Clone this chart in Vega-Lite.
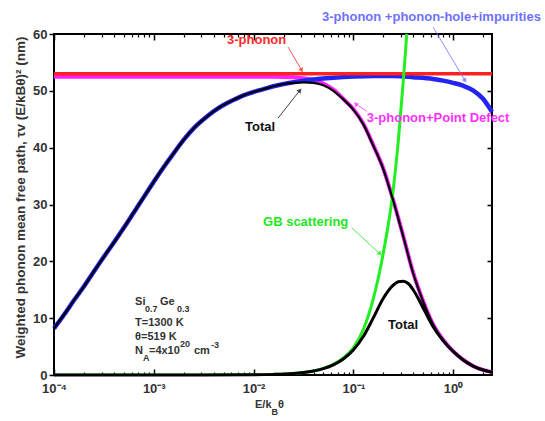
{
"$schema":"https://vega.github.io/schema/vega-lite/v6.json",
"width":438,"height":341,
"autosize":"none",
"padding":{"left":54,"top":34,"right":53,"bottom":46},
"background":"white",
"config":{"font":"Liberation Sans","view":{"stroke":"black","strokeWidth":2}},
"datasets":{
"curves":[
{"s":"R","x":0.0001,"y":53.0},{"s":"R","x":2.455,"y":53.0},
{"s":"B","x":0.0001,"y":8.2},{"s":"B","x":0.000126,"y":10.6},{"s":"B","x":0.000158,"y":13.1},{"s":"B","x":0.0002,"y":15.6},{"s":"B","x":0.000251,"y":18.2},{"s":"B","x":0.000316,"y":20.8},{"s":"B","x":0.000398,"y":23.3},{"s":"B","x":0.000501,"y":25.9},{"s":"B","x":0.000631,"y":28.6},{"s":"B","x":0.000794,"y":31.3},{"s":"B","x":0.001,"y":34.0},{"s":"B","x":0.00126,"y":36.6},{"s":"B","x":0.00158,"y":39.0},{"s":"B","x":0.002,"y":41.4},{"s":"B","x":0.00251,"y":43.4},{"s":"B","x":0.00316,"y":45.0},{"s":"B","x":0.00398,"y":46.4},{"s":"B","x":0.00501,"y":47.5},{"s":"B","x":0.00631,"y":48.4},{"s":"B","x":0.00794,"y":49.2},{"s":"B","x":0.01,"y":49.8},{"s":"B","x":0.0126,"y":50.3},{"s":"B","x":0.0158,"y":50.8},{"s":"B","x":0.02,"y":51.2},{"s":"B","x":0.0251,"y":51.5},{"s":"B","x":0.0316,"y":51.8},{"s":"B","x":0.0398,"y":52.0},{"s":"B","x":0.0631,"y":52.3},{"s":"B","x":0.1,"y":52.5},{"s":"B","x":0.158,"y":52.6},{"s":"B","x":0.251,"y":52.6},{"s":"B","x":0.398,"y":52.4},{"s":"B","x":0.631,"y":52.1},{"s":"B","x":0.794,"y":51.8},{"s":"B","x":1,"y":51.4},{"s":"B","x":1.259,"y":50.9},{"s":"B","x":1.585,"y":50.1},{"s":"B","x":1.995,"y":48.6},{"s":"B","x":2.455,"y":46.3},
{"s":"M","x":0.0001,"y":52.5},{"s":"M","x":0.01,"y":52.5},{"s":"M","x":0.0158,"y":52.5},{"s":"M","x":0.0251,"y":52.4},{"s":"M","x":0.0316,"y":52.2},{"s":"M","x":0.0398,"y":51.9},{"s":"M","x":0.0501,"y":51.3},{"s":"M","x":0.0631,"y":50.2},{"s":"M","x":0.0794,"y":48.6},{"s":"M","x":0.1,"y":46.8},{"s":"M","x":0.126,"y":44.2},{"s":"M","x":0.158,"y":40.5},{"s":"M","x":0.2,"y":36.3},{"s":"M","x":0.251,"y":30.8},{"s":"M","x":0.316,"y":24.5},{"s":"M","x":0.398,"y":18.0},{"s":"M","x":0.501,"y":13.0},{"s":"M","x":0.631,"y":8.9},{"s":"M","x":0.794,"y":6.2},{"s":"M","x":1,"y":4.2},{"s":"M","x":1.259,"y":2.7},{"s":"M","x":1.585,"y":1.6},{"s":"M","x":1.995,"y":0.9},{"s":"M","x":2.455,"y":0.5},
{"s":"U","x":0.0001,"y":8.2},{"s":"U","x":0.000126,"y":10.6},{"s":"U","x":0.000158,"y":13.1},{"s":"U","x":0.0002,"y":15.6},{"s":"U","x":0.000251,"y":18.2},{"s":"U","x":0.000316,"y":20.8},{"s":"U","x":0.000398,"y":23.3},{"s":"U","x":0.000501,"y":25.9},{"s":"U","x":0.000631,"y":28.6},{"s":"U","x":0.000794,"y":31.3},{"s":"U","x":0.001,"y":34.0},{"s":"U","x":0.00126,"y":36.6},{"s":"U","x":0.00158,"y":39.0},{"s":"U","x":0.002,"y":41.4},{"s":"U","x":0.00251,"y":43.4},{"s":"U","x":0.00316,"y":45.0},{"s":"U","x":0.00398,"y":46.4},{"s":"U","x":0.00501,"y":47.5},{"s":"U","x":0.00631,"y":48.4},{"s":"U","x":0.00794,"y":49.2},{"s":"U","x":0.01,"y":49.8},{"s":"U","x":0.0126,"y":50.3},{"s":"U","x":0.0158,"y":50.8},{"s":"U","x":0.02,"y":51.2},{"s":"U","x":0.0251,"y":51.4},{"s":"U","x":0.0316,"y":51.5},{"s":"U","x":0.0398,"y":51.4},{"s":"U","x":0.0501,"y":51.0},{"s":"U","x":0.0631,"y":50.0},{"s":"U","x":0.0794,"y":48.5},{"s":"U","x":0.1,"y":46.7},{"s":"U","x":0.126,"y":44.1},{"s":"U","x":0.158,"y":40.4},{"s":"U","x":0.2,"y":36.2},{"s":"U","x":0.251,"y":30.7},{"s":"U","x":0.316,"y":24.4},{"s":"U","x":0.398,"y":17.9},{"s":"U","x":0.501,"y":12.9},{"s":"U","x":0.631,"y":8.85},{"s":"U","x":0.794,"y":6.15},{"s":"U","x":1,"y":4.18},{"s":"U","x":1.259,"y":2.69},{"s":"U","x":1.585,"y":1.6},{"s":"U","x":1.995,"y":0.9},{"s":"U","x":2.455,"y":0.5},
{"s":"L","x":0.0001,"y":0.0},{"s":"L","x":0.001,"y":0.0004},{"s":"L","x":0.00316,"y":0.004},{"s":"L","x":0.01,"y":0.043},{"s":"L","x":0.0158,"y":0.11},{"s":"L","x":0.0251,"y":0.28},{"s":"L","x":0.0316,"y":0.45},{"s":"L","x":0.0398,"y":0.71},{"s":"L","x":0.0501,"y":1.13},{"s":"L","x":0.0631,"y":1.79},{"s":"L","x":0.0794,"y":2.82},{"s":"L","x":0.1,"y":4.4},{"s":"L","x":0.126,"y":6.77},{"s":"L","x":0.158,"y":10.0},{"s":"L","x":0.2,"y":13.5},{"s":"L","x":0.251,"y":15.8},{"s":"L","x":0.282,"y":16.4},{"s":"L","x":0.316,"y":16.5},{"s":"L","x":0.355,"y":16.1},{"s":"L","x":0.398,"y":15.0},{"s":"L","x":0.501,"y":11.8},{"s":"L","x":0.631,"y":8.5},{"s":"L","x":0.794,"y":6.05},{"s":"L","x":1,"y":4.15},{"s":"L","x":1.259,"y":2.65},{"s":"L","x":1.585,"y":1.57},{"s":"L","x":1.995,"y":0.88},{"s":"L","x":2.455,"y":0.48},
{"s":"G","x":0.0001,"y":0.0},{"s":"G","x":0.001,"y":0.0004},{"s":"G","x":0.00316,"y":0.004},{"s":"G","x":0.01,"y":0.043},{"s":"G","x":0.0158,"y":0.11},{"s":"G","x":0.0251,"y":0.28},{"s":"G","x":0.0316,"y":0.45},{"s":"G","x":0.0398,"y":0.72},{"s":"G","x":0.0501,"y":1.16},{"s":"G","x":0.0631,"y":1.86},{"s":"G","x":0.0794,"y":2.99},{"s":"G","x":0.1,"y":4.78},{"s":"G","x":0.126,"y":8.0},{"s":"G","x":0.158,"y":13.3},{"s":"G","x":0.2,"y":21.5},{"s":"G","x":0.251,"y":32.5},{"s":"G","x":0.282,"y":41.0},{"s":"G","x":0.316,"y":51.5},{"s":"G","x":0.355,"y":64.0},{"s":"G","x":0.398,"y":81.0}
],
"ann":[
{"c":"red","label":"3-phonon","tx":0.00542,"ty":58.9,"ax":0.0222,"ay":57.7,"bx":0.0304,"by":53.6},
{"c":"blue","label":"3-phonon +phonon-hole+impurities","tx":0.0486,"ty":63.0,"ax":0.631,"ay":61.2,"bx":1.318,"by":51.8},
{"c":"magenta","label":"3-phonon+Point Defect","tx":0.1365,"ty":45.2,"ax":0.1365,"ay":46.4,"bx":0.1054,"by":47.7},
{"c":"black","label":"Total","tx":0.00822,"ty":43.6,"ax":0.0176,"ay":45.2,"bx":0.0292,"by":50.1},
{"c":"green","label":"GB scattering","tx":0.01245,"ty":27.0,"ax":0.0966,"ay":25.9,"bx":0.1854,"by":21.3},
{"c":"black","label":"Total","tx":0.2228,"ty":8.8}
],
"info":[
{"t":"Si","x":0.000649,"y":12.9,"r":"m"},{"t":"0.7","x":0.000817,"y":11.6,"r":"s"},{"t":"Ge","x":0.001156,"y":12.9,"r":"m"},{"t":"0.3","x":0.00171,"y":11.6,"r":"s"},
{"t":"T=1300 K","x":0.000649,"y":9.2,"r":"m"},{"t":"θ=519 K","x":0.000649,"y":6.63,"r":"m"},
{"t":"N","x":0.000649,"y":4.28,"r":"m"},{"t":"A","x":0.00078,"y":3.0,"r":"s"},{"t":"=4x10","x":0.000895,"y":4.28,"r":"m"},{"t":"20","x":0.00183,"y":5.4,"r":"s"},{"t":"cm","x":0.00253,"y":4.28,"r":"m"},{"t":"-3","x":0.00375,"y":5.3,"r":"s"},
{"t":"E/k","x":0.01035,"y":-5.28,"r":"m"},{"t":"B","x":0.01515,"y":-6.5,"r":"s"},{"t":"θ","x":0.0176,"y":-5.28,"r":"m"}
]
},
"resolve":{"axis":{"x":"independent","y":"independent"}},
"layer":[
{"data":{"name":"curves"},"transform":[{"filter":"datum.s=='M'"}],
 "mark":{"type":"line","color":"#ff22ff","strokeWidth":4,"interpolate":"monotone"},
 "encoding":{
  "x":{"field":"x","type":"quantitative","scale":{"type":"log","domain":[0.0001,2.455],"nice":false},
   "axis":{"orient":"bottom","values":[0.0001,0.001,0.01,0.1,1],"ticks":false,"domain":false,"grid":false,
    "labelExpr":"datum.value < 0.0005 ? '10⁻⁴' : datum.value < 0.005 ? '10⁻³' : datum.value < 0.05 ? '10⁻²' : datum.value < 0.5 ? '10⁻¹' : '10⁰'",
    "labelFont":"Liberation Sans","labelFontSize":13,"labelFontWeight":"bold","labelColor":"#333","labelPadding":7,"labelFlush":false,"labelOverlap":false,"labelBound":false,"title":null}},
  "y":{"field":"y","type":"quantitative","scale":{"domain":[0,60],"nice":false,"zero":false},
   "axis":{"orient":"left","values":[0,10,20,30,40,50,60],"ticks":true,"tickSize":5,"tickWidth":1.5,"tickColor":"#000","domain":false,"grid":false,
    "labelFont":"Liberation Sans","labelFontSize":13,"labelFontWeight":"bold","labelColor":"#333","labelPadding":2,"labelFlush":false,"labelOverlap":false,
    "title":"Weighted phonon mean free path,  τv (E/kBθ)² (nm)","titleFont":"Liberation Sans","titleFontSize":13.5,"titleFontWeight":"bold","titleColor":"#333","titlePadding":5,"titleY":163}}
 }},
{"data":{"name":"curves"},"transform":[{"filter":"datum.s=='B'"}],
 "mark":{"type":"line","color":"#2424f0","strokeWidth":4.5,"interpolate":"monotone"},
 "encoding":{
  "x":{"field":"x","type":"quantitative","scale":{"type":"log","domain":[0.0001,2.455],"nice":false},
   "axis":{"orient":"bottom","values":[0.0001,0.001,0.01,0.1,1],"labels":false,"domain":false,"grid":false,"tickSize":-6,"tickWidth":1.5,"tickColor":"#000","title":null}},
  "y":{"field":"y","type":"quantitative","scale":{"domain":[0,60],"nice":false,"zero":false},
   "axis":{"orient":"right","values":[10,20,30,40,50],"labels":false,"domain":false,"grid":false,"tickSize":-5,"tickWidth":1.5,"tickColor":"#000","title":null}}
 }},
{"data":{"name":"curves"},"transform":[{"filter":"datum.s=='R'"}],
 "mark":{"type":"line","color":"#ff2020","strokeWidth":3.5},
 "encoding":{
  "x":{"field":"x","type":"quantitative","scale":{"type":"log","domain":[0.0001,2.455],"nice":false},
   "axis":{"orient":"top","values":[0.0001,0.001,0.01,0.1,1],"labels":false,"domain":false,"grid":false,"tickSize":-6,"tickWidth":1.5,"tickColor":"#000","title":null}},
  "y":{"field":"y","type":"quantitative","scale":{"domain":[0,60],"nice":false,"zero":false},"axis":null}
 }},
{"data":{"name":"curves"},"transform":[{"filter":"datum.s=='G'"}],
 "mark":{"type":"line","color":"#22ee22","strokeWidth":3,"interpolate":"monotone","clip":true},
 "encoding":{
  "x":{"field":"x","type":"quantitative","scale":{"type":"log","domain":[0.0001,2.455],"nice":false},
   "axis":{"orient":"bottom","values":[0.0002,0.0003,0.0004,0.0005,0.0006,0.0007,0.0008,0.0009,0.002,0.003,0.004,0.005,0.006,0.007,0.008,0.009,0.02,0.03,0.04,0.05,0.06,0.07,0.08,0.09,0.2,0.3,0.4,0.5,0.6,0.7,0.8,0.9,2],"labels":false,"domain":false,"grid":false,"tickSize":-3,"tickWidth":1.2,"tickColor":"#000","title":null}},
  "y":{"field":"y","type":"quantitative","scale":{"domain":[0,60],"nice":false,"zero":false},"axis":null}
 }},
{"data":{"name":"curves"},"transform":[{"filter":"datum.s=='U'"}],
 "mark":{"type":"line","color":"#000000","strokeWidth":2.2,"interpolate":"monotone"},
 "encoding":{
  "x":{"field":"x","type":"quantitative","scale":{"type":"log","domain":[0.0001,2.455],"nice":false},
   "axis":{"orient":"top","values":[0.0002,0.0003,0.0004,0.0005,0.0006,0.0007,0.0008,0.0009,0.002,0.003,0.004,0.005,0.006,0.007,0.008,0.009,0.02,0.03,0.04,0.05,0.06,0.07,0.08,0.09,0.2,0.3,0.4,0.5,0.6,0.7,0.8,0.9,2],"labels":false,"domain":false,"grid":false,"tickSize":-3,"tickWidth":1.2,"tickColor":"#000","title":null}},
  "y":{"field":"y","type":"quantitative","scale":{"domain":[0,60],"nice":false,"zero":false},"axis":null}
 }},
{"data":{"name":"curves"},"transform":[{"filter":"datum.s=='L'"}],
 "mark":{"type":"line","color":"#000000","strokeWidth":3,"interpolate":"monotone"},
 "encoding":{
  "x":{"field":"x","type":"quantitative","scale":{"type":"log","domain":[0.0001,2.455],"nice":false},"axis":null},
  "y":{"field":"y","type":"quantitative","scale":{"domain":[0,60],"nice":false,"zero":false},"axis":null}
 }},
{"data":{"name":"ann"},"transform":[{"filter":"datum.ax != null"}],
 "mark":{"type":"rule","strokeWidth":1,"opacity":0.8},
 "encoding":{
  "x":{"field":"ax","type":"quantitative","scale":{"type":"log","domain":[0.0001,2.455],"nice":false},"axis":null},
  "y":{"field":"ay","type":"quantitative","scale":{"domain":[0,60],"nice":false,"zero":false},"axis":null},
  "x2":{"field":"bx"},"y2":{"field":"by"},
  "color":{"field":"c","type":"nominal","scale":{"domain":["red","blue","magenta","black","green"],"range":["#ff2a2a","#7070ff","#ff30ff","#111111","#22e622"]},"legend":null}
 }},
{"data":{"name":"ann"},"transform":[{"filter":"datum.c=='red' || datum.c=='blue'"}],
 "mark":{"type":"point","shape":"triangle-up","filled":true,"size":30,"angle":149},
 "encoding":{
  "x":{"field":"bx","type":"quantitative","scale":{"type":"log","domain":[0.0001,2.455],"nice":false},"axis":null},
  "y":{"field":"by","type":"quantitative","scale":{"domain":[0,60],"nice":false,"zero":false},"axis":null},
  "color":{"field":"c","type":"nominal","scale":{"domain":["red","blue","magenta","black","green"],"range":["#ff2a2a","#3b3bf0","#ff30ff","#111111","#22e622"]},"legend":null}
 }},
{"data":{"name":"ann"},"transform":[{"filter":"datum.c=='magenta'"}],
 "mark":{"type":"point","shape":"triangle-up","filled":true,"size":30,"angle":313,"color":"#ff30ff"},
 "encoding":{
  "x":{"field":"bx","type":"quantitative","scale":{"type":"log","domain":[0.0001,2.455],"nice":false},"axis":null},
  "y":{"field":"by","type":"quantitative","scale":{"domain":[0,60],"nice":false,"zero":false},"axis":null}
 }},
{"data":{"name":"ann"},"transform":[{"filter":"datum.c=='black' && datum.ax != null"}],
 "mark":{"type":"point","shape":"triangle-up","filled":true,"size":30,"angle":38,"color":"#111111"},
 "encoding":{
  "x":{"field":"bx","type":"quantitative","scale":{"type":"log","domain":[0.0001,2.455],"nice":false},"axis":null},
  "y":{"field":"by","type":"quantitative","scale":{"domain":[0,60],"nice":false,"zero":false},"axis":null}
 }},
{"data":{"name":"ann"},"transform":[{"filter":"datum.c=='green'"}],
 "mark":{"type":"point","shape":"triangle-up","filled":true,"size":30,"angle":131,"color":"#22e622"},
 "encoding":{
  "x":{"field":"bx","type":"quantitative","scale":{"type":"log","domain":[0.0001,2.455],"nice":false},"axis":null},
  "y":{"field":"by","type":"quantitative","scale":{"domain":[0,60],"nice":false,"zero":false},"axis":null}
 }},
{"data":{"name":"ann"},
 "mark":{"type":"text","align":"left","baseline":"middle","font":"Liberation Sans","fontSize":13,"fontWeight":"bold"},
 "encoding":{
  "x":{"field":"tx","type":"quantitative","scale":{"type":"log","domain":[0.0001,2.455],"nice":false},"axis":null},
  "y":{"field":"ty","type":"quantitative","scale":{"domain":[0,60],"nice":false,"zero":false},"axis":null},
  "text":{"field":"label"},
  "color":{"field":"c","type":"nominal","scale":{"domain":["red","blue","magenta","black","green"],"range":["#ff3030","#3a3ae6","#ff38ff","#222222","#22e622"]},"legend":null}
 }},
{"data":{"name":"info"},
 "mark":{"type":"text","align":"left","baseline":"middle","font":"Liberation Sans","fontWeight":"bold","color":"#333"},
 "encoding":{
  "x":{"field":"x","type":"quantitative","scale":{"type":"log","domain":[0.0001,2.455],"nice":false},"axis":null},
  "y":{"field":"y","type":"quantitative","scale":{"domain":[0,60],"nice":false,"zero":false},"axis":null},
  "text":{"field":"t"},
  "size":{"field":"r","type":"nominal","scale":{"domain":["m","s"],"range":[11,9]},"legend":null}
 }}
]
}
